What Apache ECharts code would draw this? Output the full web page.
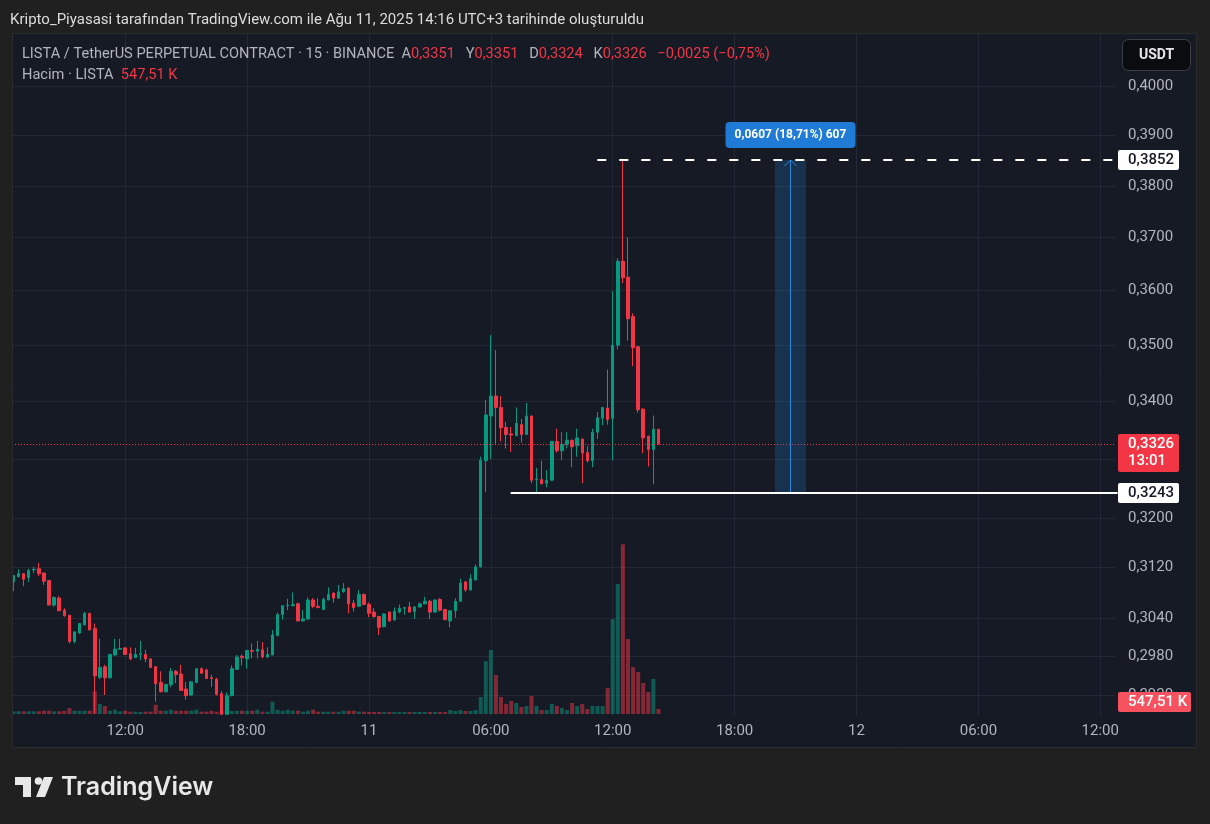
<!DOCTYPE html>
<html><head><meta charset="utf-8">
<script src="https://cdn.jsdelivr.net/npm/echarts@6/dist/echarts.min.js"></script>
<style>html,body{margin:0;padding:0;background:#202020;}#c{width:1210px;height:824px;}</style>
</head><body><div id="c"></div>
<script>
// ---------- DATA ----------
const startTimeUTC = [2025, 7, 10, 6, 30];   // first 15-min slot (10 Aug 06:30)
const slotCount = 218;                        // slots on the time axis (until 12 Aug 12:45)
const openP = [
0.3097,0.3105,0.3110,0.3104,0.3116,0.3118,0.3111,0.3099,0.3060,0.3071,
0.3052,0.3044,0.3003,0.3016,0.3029,0.3047,0.3023,0.2948,0.2964,0.2947,
0.2982,0.2991,0.2993,0.2984,0.2978,0.2983,0.2983,0.2976,0.2964,0.2940,
0.2926,0.2937,0.2957,0.2953,0.2930,0.2921,0.2940,0.2961,0.2959,0.2947,
0.2945,0.2923,0.2892,0.2920,0.2960,0.2980,0.2976,0.2989,0.2988,0.2990,
0.2979,0.2982,0.3012,0.3045,0.3059,0.3059,0.3062,0.3035,0.3038,0.3068,
0.3058,0.3053,0.3068,0.3079,0.3071,0.3081,0.3087,0.3063,0.3058,0.3077,
0.3061,0.3049,0.3042,0.3026,0.3049,0.3037,0.3049,0.3055,0.3057,0.3050,
0.3057,0.3062,0.3066,0.3049,0.3069,0.3053,0.3035,0.3051,0.3066,0.3097,
0.3084,0.3100,0.3121,0.3297,0.3374,0.3409,0.3389,0.3354,0.3343,0.3340,
0.3359,0.3342,0.3374,0.3265,0.3265,0.3259,0.3264,0.3330,0.3314,0.3325,
0.3332,0.3323,0.3334,0.3311,0.3297,0.3346,0.3370,0.3388,0.3370,0.3500,
0.3655,0.3625,0.3552,0.3497,0.3386,0.3339,0.3316,0.3351];
const highP = [
0.3108,0.3117,0.3111,0.3118,0.3121,0.3127,0.3112,0.3099,0.3074,0.3074,
0.3055,0.3044,0.3018,0.3031,0.3049,0.3047,0.3031,0.3007,0.2967,0.2983,
0.3007,0.3007,0.2994,0.2994,0.2993,0.3004,0.2990,0.2977,0.2965,0.2957,
0.2938,0.2962,0.2959,0.2967,0.2941,0.2942,0.2962,0.2963,0.2961,0.2952,
0.2947,0.2927,0.2925,0.2966,0.2982,0.2983,0.2990,0.3000,0.3004,0.3002,
0.2994,0.3021,0.3048,0.3060,0.3070,0.3080,0.3064,0.3052,0.3072,0.3071,
0.3071,0.3072,0.3088,0.3080,0.3092,0.3095,0.3088,0.3068,0.3084,0.3078,
0.3064,0.3055,0.3043,0.3047,0.3050,0.3056,0.3061,0.3056,0.3065,0.3058,
0.3064,0.3073,0.3068,0.3069,0.3071,0.3054,0.3052,0.3071,0.3102,0.3098,
0.3109,0.3125,0.3304,0.3402,0.3518,0.3491,0.3409,0.3364,0.3355,0.3389,
0.3369,0.3397,0.3375,0.3285,0.3297,0.3281,0.3331,0.3352,0.3346,0.3346,
0.3333,0.3352,0.3335,0.3322,0.3352,0.3381,0.3390,0.3456,0.3599,0.3661,
0.3852,0.3700,0.3558,0.3498,0.3388,0.3340,0.3375,0.3351];
const lowP = [
0.3082,0.3105,0.3090,0.3097,0.3111,0.3106,0.3092,0.3060,0.3057,0.3051,
0.3042,0.3000,0.3000,0.3015,0.3028,0.3020,0.2893,0.2945,0.2921,0.2946,
0.2981,0.2990,0.2982,0.2974,0.2978,0.2974,0.2971,0.2962,0.2911,0.2925,
0.2925,0.2933,0.2939,0.2927,0.2914,0.2920,0.2939,0.2953,0.2945,0.2933,
0.2920,0.2891,0.2891,0.2919,0.2960,0.2966,0.2961,0.2977,0.2977,0.2977,
0.2977,0.2982,0.3012,0.3037,0.3052,0.3058,0.3034,0.3034,0.3037,0.3055,
0.3055,0.3052,0.3068,0.3064,0.3070,0.3080,0.3047,0.3050,0.3057,0.3060,
0.3041,0.3040,0.3013,0.3025,0.3034,0.3035,0.3047,0.3045,0.3048,0.3038,
0.3056,0.3061,0.3038,0.3048,0.3050,0.3036,0.3025,0.3040,0.3065,0.3081,
0.3083,0.3099,0.3120,0.3244,0.3300,0.3326,0.3330,0.3318,0.3312,0.3339,
0.3328,0.3341,0.3259,0.3243,0.3257,0.3252,0.3263,0.3311,0.3298,0.3318,
0.3286,0.3304,0.3259,0.3294,0.3286,0.3334,0.3358,0.3359,0.3298,0.3492,
0.3614,0.3508,0.3462,0.3380,0.3310,0.3287,0.3257,0.3324];
const closeP = [
0.3107,0.3110,0.3101,0.3115,0.3117,0.3110,0.3098,0.3060,0.3072,0.3051,
0.3043,0.3003,0.3018,0.3031,0.3047,0.3021,0.2950,0.2963,0.2947,0.2983,
0.2991,0.2992,0.2983,0.2976,0.2983,0.2984,0.2976,0.2963,0.2938,0.2926,
0.2937,0.2957,0.2952,0.2928,0.2920,0.2941,0.2961,0.2954,0.2946,0.2946,
0.2922,0.2892,0.2920,0.2961,0.2979,0.2978,0.2989,0.2988,0.2991,0.2979,
0.2983,0.3013,0.3045,0.3059,0.3060,0.3061,0.3035,0.3038,0.3068,0.3058,
0.3056,0.3069,0.3077,0.3071,0.3081,0.3086,0.3062,0.3056,0.3077,0.3061,
0.3047,0.3042,0.3025,0.3046,0.3035,0.3050,0.3055,0.3056,0.3049,0.3057,
0.3062,0.3066,0.3049,0.3068,0.3052,0.3037,0.3051,0.3066,0.3095,0.3084,
0.3102,0.3121,0.3298,0.3376,0.3409,0.3389,0.3354,0.3342,0.3341,0.3361,
0.3342,0.3374,0.3264,0.3266,0.3258,0.3264,0.3330,0.3314,0.3325,0.3332,
0.3321,0.3336,0.3310,0.3297,0.3346,0.3371,0.3389,0.3368,0.3500,0.3655,
0.3624,0.3548,0.3495,0.3385,0.3336,0.3316,0.3351,0.3326];
const volumeK = [
296,296,296,296,296,296,361,361,296,296,
361,657,361,361,361,361,2486,1095,876,361,
471,296,361,252,252,219,252,252,1018,361,
361,471,361,361,361,361,471,252,252,361,
252,361,580,329,361,361,361,361,471,252,
252,1347,471,361,471,361,361,252,361,471,
252,252,252,252,252,361,361,361,252,252,
219,219,219,219,219,219,219,219,219,219,
219,219,219,219,219,219,438,329,438,329,
329,438,1862,5804,7008,4271,1862,1095,1424,1205,
767,876,1971,876,438,438,1095,876,657,438,
1205,876,1095,548,876,876,876,2847,10403,14235,
18615,8213,5147,4599,3395,2409,3833,547.51];
const yTicks = [0.4000,0.3900,0.3800,0.3700,0.3600,0.3500,0.3400,0.3300,0.3200,0.3120,0.3040,0.2980,0.2920];
const xMajorHours = [0, 6, 12, 18];
const measureHigh = 0.3852, measureLow = 0.3243;
const measureText = '0,0607 (18,71%) 607';
const countdownText = '13:01';
const titleText = 'Kripto_Piyasasi tarafından TradingView.com ile Ağu 11, 2025 14:16 UTC+3 tarihinde oluşturuldu';
const symbolText = 'LISTA / TetherUS PERPETUAL CONTRACT · 15 · BINANCE';
const volumeTitle = 'Hacim · LISTA';
// annotation anchors in data units (slot index)
const highLineFrom = 114.96, lowLineFrom = 97.9, rangeFrom = 149.95, rangeTo = 156.05;

// ---------- BUILD ----------
const cats = [];
const t0 = Date.UTC.apply(null, startTimeUTC);
for (let k = 0; k < slotCount; k++) cats.push(new Date(t0 + k * 900000).toISOString().slice(0, 16));
const isMajor = i => { const s = cats[i]; const h = +s.slice(11, 13), m = +s.slice(14, 16); return m === 0 && xMajorHours.indexOf(h) >= 0; };
const fmtX = s => { const h = s.slice(11, 13), m = s.slice(14, 16); return (h === '00' && m === '00') ? String(+s.slice(8, 10)) : h + ':' + m; };
const fmtP = v => (+v).toFixed(4).replace('.', ',');
const UP = '#089981', DOWN = '#f23645';
const candleData = openP.map((o, i) => [o, closeP[i], lowP[i], highP[i]]);
const volData = volumeK.map((v, i) => ({ value: v, itemStyle: { color: closeP[i] >= openP[i] ? 'rgba(8,153,129,0.5)' : 'rgba(242,54,69,0.5)' } }));
const FONT = 'Roboto';
const AX = 15;

const chart = echarts.init(document.getElementById('c'));
chart.setOption({
  backgroundColor: '#161a25',
  animation: false,
  grid: [
    { left: 13.5, right: 94.5, top: 33, height: 683 },
    { left: 13.5, right: 94.5, top: 531.5, height: 182.5 }
  ],
  xAxis: [
    { type: 'category', data: cats, boundaryGap: false, gridIndex: 0,
      axisLine: { show: false }, axisTick: { show: false },
      axisLabel: { interval: i => isMajor(i), formatter: fmtX, color: '#b2b5be', fontSize: AX, fontFamily: FONT, margin: 8 },
      splitLine: { show: true, interval: i => isMajor(i), lineStyle: { color: '#242835', width: 1 } } },
    { type: 'category', data: cats, boundaryGap: false, gridIndex: 1, show: false }
  ],
  yAxis: [
    { type: 'log', gridIndex: 0, position: 'right', min: 0.28895, max: 0.41126,
      axisLine: { show: false },
      axisTick: { show: false, customValues: yTicks },
      axisLabel: { customValues: yTicks, formatter: fmtP, color: '#b2b5be', fontSize: AX, fontFamily: FONT, margin: 12.5 },
      splitLine: { show: true, lineStyle: { color: '#242835', width: 1 } } },
    { type: 'value', gridIndex: 1, min: 0, max: 20000, show: false, splitLine: { show: false } }
  ],
  series: [
    { type: 'bar', xAxisIndex: 1, yAxisIndex: 1, data: volData, barWidth: 4, z: 1 },
    { type: 'candlestick', xAxisIndex: 0, yAxisIndex: 0, data: candleData, barWidth: 3, clip: false, z: 3,
      itemStyle: { color: UP, color0: DOWN, borderColor: UP, borderColor0: DOWN, borderWidth: 1 } }
  ]
});

function overlay() {
  const x0 = chart.convertToPixel({ xAxisIndex: 0 }, 0);
  const step = chart.convertToPixel({ xAxisIndex: 0 }, 1) - x0;
  const X = i => x0 + i * step;
  const Y = v => chart.convertToPixel({ yAxisIndex: 0 }, v);
  const YV = v => chart.convertToPixel({ yAxisIndex: 1 }, v);
  const n = openP.length;
  const last = { o: openP[n - 1], h: highP[n - 1], l: lowP[n - 1], c: closeP[n - 1] };
  const chg = last.c - closeP[n - 2];
  const pct = chg / closeP[n - 2] * 100;
  const sgn = v => (v < 0 ? '\u2212' : '+');
  const chgTxt = sgn(chg) + Math.abs(chg).toFixed(4).replace('.', ',') + ' (' + sgn(pct) + Math.abs(pct).toFixed(2).replace('.', ',') + '%)';
  const lastVol = volumeK[n - 1];
  const volTxt = lastVol.toFixed(2).replace('.', ',') + ' K';
  const rightX = X(slotCount - 1);
  const g = [];
  const Z = 100;
  // outer frame
  g.push({ type: 'rect', z: 90, silent: true, shape: { x: 0, y: 0, width: 1210, height: 33 }, style: { fill: '#202020' } });
  g.push({ type: 'rect', z: 90, silent: true, shape: { x: 0, y: 748, width: 1210, height: 76 }, style: { fill: '#202020' } });
  g.push({ type: 'rect', z: 90, silent: true, shape: { x: 0, y: 33, width: 12, height: 715 }, style: { fill: '#202020' } });
  g.push({ type: 'rect', z: 90, silent: true, shape: { x: 1197, y: 33, width: 13, height: 715 }, style: { fill: '#202020' } });
  g.push({ type: 'rect', z: 91, silent: true, shape: { x: 12.5, y: 33.5, width: 1184, height: 714 }, style: { fill: 'transparent', stroke: '#2c2c2c', lineWidth: 1 } });
  // title
  g.push({ type: 'text', z: Z, x: 10, y: 20, style: { text: titleText, fill: '#dcdcdc', fontSize: 15, fontFamily: FONT, verticalAlign: 'middle' } });
  // header
  const HF = 14.6;
  const SP = '   ';
  const rich = { g: { fill: '#b2b5be', fontSize: HF, fontFamily: FONT }, r: { fill: DOWN, fontSize: HF, fontFamily: FONT } };
  const hdr = '{g|' + symbolText + '  A}{r|' + fmtP(last.o) + '}{g|' + SP + 'Y}{r|' + fmtP(last.h) + '}{g|' + SP + 'D}{r|' + fmtP(last.l) + '}{g|' + SP + 'K}{r|' + fmtP(last.c) + SP + chgTxt + '}';
  g.push({ type: 'text', z: Z, x: 22, y: 54.5, style: { text: hdr, rich: rich, fontSize: HF, fontFamily: FONT, verticalAlign: 'middle' } });
  g.push({ type: 'text', z: Z, x: 22, y: 75.5, style: { text: '{g|' + volumeTitle + '  }{r|' + volTxt + '}', rich: rich, fontSize: HF, fontFamily: FONT, verticalAlign: 'middle' } });
  // USDT button
  g.push({ type: 'rect', z: Z, shape: { x: 1122.5, y: 39.5, width: 68, height: 31, r: 6 }, style: { fill: '#0b0c0f', stroke: '#3b3f4a', lineWidth: 1 } });
  g.push({ type: 'text', z: Z + 1, x: 1156.5, y: 55, style: { text: 'USDT', fill: '#e8e8e8', fontSize: 14, fontWeight: 'bold', fontFamily: FONT, align: 'center', verticalAlign: 'middle' } });
  // logo
  g.push({ type: 'polygon', z: Z, shape: { points: [[15, 777], [31, 777], [31, 797], [23, 797], [23, 785], [15, 785]] }, style: { fill: '#e8e8e8' } });
  g.push({ type: 'circle', z: Z, shape: { cx: 38.5, cy: 781, r: 3.8 }, style: { fill: '#e8e8e8' } });
  g.push({ type: 'polygon', z: Z, shape: { points: [[44, 777], [53, 777], [45, 797], [36, 797]] }, style: { fill: '#e8e8e8' } });
  g.push({ type: 'text', z: Z, x: 61, y: 787, style: { text: 'TradingView', fill: '#e8e8e8', fontSize: 25, fontWeight: 600, fontFamily: 'Inter', verticalAlign: 'middle' } });
  // current price dotted line
  const yc = Math.round(Y(last.c)) + 0.5;
  g.push({ type: 'line', z: 5, silent: true, shape: { x1: 12, y1: yc, x2: rightX, y2: yc }, style: { stroke: DOWN, lineWidth: 1, lineDash: [1, 2] } });
  // range measure
  const yH = Math.round(Y(measureHigh)), yL = Math.round(Y(measureLow));
  const bx1 = X(rangeFrom), bx2 = X(rangeTo), cx = Math.round((bx1 + bx2) / 2) + 0.5;
  g.push({ type: 'rect', z: 6, shape: { x: bx1, y: yH, width: bx2 - bx1, height: yL - yH }, style: { fill: 'rgba(33,150,243,0.2)' } });
  g.push({ type: 'line', z: 7, shape: { x1: cx, y1: yH, x2: cx, y2: yL }, style: { stroke: '#2f8ae0', lineWidth: 1 } });
  g.push({ type: 'polyline', z: 7, shape: { points: [[cx - 6, yH + 6], [cx, yH], [cx + 6, yH + 6]] }, style: { stroke: '#2f8ae0', lineWidth: 1, fill: null } });
  g.push({ type: 'line', z: 8, shape: { x1: X(highLineFrom), y1: yH, x2: rightX + 2, y2: yH }, style: { stroke: '#ffffff', lineWidth: 2, lineDash: [9, 13] } });
  g.push({ type: 'line', z: 8, shape: { x1: X(lowLineFrom), y1: yL, x2: rightX + 2, y2: yL }, style: { stroke: '#ffffff', lineWidth: 2 } });
  g.push({ type: 'rect', z: Z, shape: { x: cx - 65, y: yH - 38, width: 130, height: 26, r: 4 }, style: { fill: '#1f7bd6' } });
  g.push({ type: 'text', z: Z + 1, x: cx, y: yH - 25, style: { text: measureText, fill: '#ffffff', fontSize: 12, fontWeight: 'bold', fontFamily: FONT, align: 'center', verticalAlign: 'middle' } });
  // right tags
  const tag = (y, h, w, fill, lines, color) => {
    g.push({ type: 'rect', z: Z, shape: { x: 1118, y: y, width: w, height: h, r: 2 }, style: { fill: fill } });
    lines.forEach((t, k) => g.push({ type: 'text', z: Z + 1, x: 1128, y: y + 10.5 + k * 17, style: { text: t, fill: color, fontSize: AX, fontWeight: 500, fontFamily: FONT, verticalAlign: 'middle' } }));
  };
  tag(yH - 10, 20, 61, '#ffffff', [fmtP(measureHigh)], '#131722');
  tag(yL - 10, 20, 61, '#ffffff', [fmtP(measureLow)], '#131722');
  tag(Math.round(Y(last.c)) - 10, 38, 61, DOWN, [fmtP(last.c), countdownText], '#ffffff');
  const vy = Math.min(YV(lastVol), 702);
  tag(Math.round(vy) - 10, 20, 73, '#f7525f', [volTxt], '#ffffff');
  chart.setOption({ graphic: g });
}
overlay();
</script>
</body></html>
